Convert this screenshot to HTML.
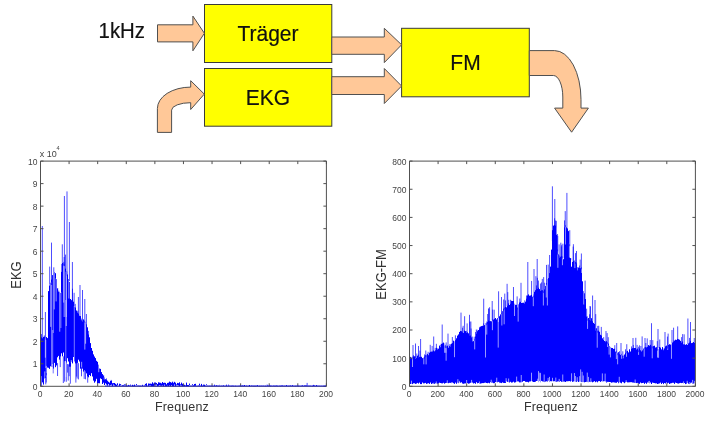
<!DOCTYPE html><html><head><meta charset="utf-8"><style>html,body{margin:0;padding:0;background:#fff;overflow:hidden}svg{display:block;will-change:transform}</style></head><body><svg width="714" height="423" viewBox="0 0 714 423"><rect width="714" height="423" fill="#fff"/><rect x="204.5" y="4.5" width="127.3" height="58" fill="#ffff00" stroke="#3a3a3a" stroke-width="1"/><rect x="204.5" y="68.5" width="127.3" height="57.7" fill="#ffff00" stroke="#3a3a3a" stroke-width="1"/><rect x="401.6" y="28.3" width="127.7" height="68.5" fill="#ffff00" stroke="#3a3a3a" stroke-width="1"/><path d="M157.5,24.8 L192.9,24.8 L192.9,16.1 L204.4,33.3 L192.9,50.8 L192.9,41.9 L157.5,41.9 Z" fill="#ffc898" stroke="#505050" stroke-width="1" stroke-linejoin="miter"/><path d="M331.8,37 L384.3,37 L384.3,28.3 L401.6,44.8 L384.3,62.6 L384.3,54.3 L331.8,54.3 Z" fill="#ffc898" stroke="#505050" stroke-width="1" stroke-linejoin="miter"/><path d="M331.8,76.7 L384.3,76.7 L384.3,68.5 L401.6,86 L384.3,103.5 L384.3,94.5 L331.8,94.5 Z" fill="#ffc898" stroke="#505050" stroke-width="1" stroke-linejoin="miter"/><path d="M157.4,132.4 L157.4,108.5 A33.3,21.4 0 0 1 190.7,87.1 L190.7,80.7 L204.3,94.1 L190.7,109.5 L190.7,102.7 A19.1,7.4 0 0 0 171.6,110.1 L171.6,132.4 Z" fill="#ffc898" stroke="#505050" stroke-width="1" stroke-linejoin="miter"/><path d="M529.3,50.6 L554.6,50.6 A26.4,49 0 0 1 581,99.6 L581,108.1 L588.4,108.1 L571.6,132.2 L554.6,108.1 L562.8,108.1 L562.8,97 A9.4,21.5 0 0 0 553.4,75.5 L529.3,75.5 Z" fill="#ffc898" stroke="#505050" stroke-width="1" stroke-linejoin="miter"/><text transform="translate(98.6,38.2) scale(0.97,1.04)" font-size="21" font-family="Liberation Sans, sans-serif" fill="#111" stroke="#111" stroke-width="0.2">1kHz</text><text transform="translate(268,40.5) scale(1,1.05)" font-size="21" text-anchor="middle" font-family="Liberation Sans, sans-serif" fill="#111" stroke="#111" stroke-width="0.2">Träger</text><text transform="translate(268,104.7) scale(1,1.07)" font-size="21" text-anchor="middle" font-family="Liberation Sans, sans-serif" fill="#111" stroke="#111" stroke-width="0.2">EKG</text><text transform="translate(465.5,69.7) scale(1,1.05)" font-size="21" text-anchor="middle" font-family="Liberation Sans, sans-serif" fill="#111" stroke="#111" stroke-width="0.2">FM</text><path d="M41.5,337.4V386.3M42.5,338.3V382.4M43.5,336.9V384.6M44.5,336.7V378.5M45.5,338.3V377.9M46.5,337.1V375.3M47.5,338.1V367.6M48.5,291.1V367.8M49.5,285.4V368.9M50.5,282.7V366.3M51.5,279.6V366.8M52.5,275.1V367.0M53.5,272.4V368.6M54.5,272.1V362.9M55.5,273.2V367.2M56.5,279.1V365.4M57.5,288.7V357.3M58.5,291.9V355.9M59.5,292.2V359.6M60.5,292.9V356.4M61.5,264.0V353.3M62.5,263.0V356.3M63.5,263.5V352.5M64.5,263.8V361.2M65.5,268.6V361.2M66.5,272.4V362.5M67.5,274.4V358.2M68.5,279.0V361.5M69.5,281.9V366.7M70.5,299.0V366.7M71.5,300.2V361.8M72.5,299.2V363.4M73.5,301.7V357.0M74.5,306.8V361.5M75.5,307.5V363.4M76.5,310.5V363.4M77.5,312.6V362.8M78.5,313.6V359.7M79.5,316.1V361.5M80.5,316.1V368.7M81.5,320.3V370.7M82.5,321.2V368.7M83.5,319.4V371.6M84.5,320.6V370.2M85.5,321.8V371.3M86.5,324.4V373.4M87.5,327.3V376.3M88.5,334.5V377.3M89.5,337.3V375.0M90.5,343.1V376.1M91.5,348.0V373.2M92.5,350.8V376.5M93.5,354.4V380.6M94.5,356.5V382.7M95.5,358.1V381.4M96.5,360.8V378.8M97.5,361.8V383.6M98.5,364.6V383.2M99.5,368.5V383.3M100.5,368.9V378.4M101.5,372.1V379.1M102.5,374.1V384.0M103.5,375.7V382.7M104.5,377.4V385.0M105.5,379.2V383.3M106.5,379.9V384.5M107.5,380.7V385.6M108.5,381.8V384.2M109.5,382.6V385.6M110.5,380.9V385.0M111.5,380.8V384.7M112.5,383.2V386.3M113.5,383.1V384.6M114.5,383.0V385.4M115.5,383.8V386.3M116.5,384.7V386.3M117.5,383.3V385.3M119.5,383.7V385.9M120.5,384.1V385.2M121.5,384.7V384.8M122.5,385.3V386.1M123.5,384.9V385.7M124.5,384.4V385.4M125.5,384.5V385.3M126.5,385.8V386.3M127.5,385.8V386.3M128.5,384.9V385.9M129.5,385.5V385.9M130.5,384.6V385.6M132.5,384.8V386.3M133.5,385.6V386.3M134.5,384.6V386.3M135.5,385.8V385.9M136.5,384.1V385.2M137.5,385.8V386.1M138.5,385.1V385.4M139.5,385.8V386.3M140.5,385.8V386.3M142.5,384.8V385.9M144.5,384.9V385.4M145.5,383.9V385.5M146.5,383.3V386.3M148.5,383.5V385.9M149.5,383.7V385.4M150.5,383.6V385.4M151.5,383.8V386.3M152.5,382.3V386.3M153.5,383.5V386.3M154.5,382.5V385.1M155.5,382.5V384.8M156.5,383.0V384.7M157.5,384.0V386.3M158.5,382.3V385.8M159.5,382.6V385.1M160.5,382.8V385.6M161.5,383.4V385.8M162.5,382.0V385.4M163.5,382.9V386.3M164.5,382.7V384.7M165.5,382.9V386.3M166.5,384.3V386.3M167.5,382.9V385.6M168.5,382.7V386.3M169.5,381.6V385.4M170.5,382.1V386.3M171.5,382.7V385.0M172.5,381.7V386.3M173.5,383.1V386.3M174.5,381.9V384.6M175.5,382.7V386.3M176.5,384.4V385.2M177.5,382.9V385.0M178.5,383.2V385.4M179.5,382.3V386.3M180.5,384.3V385.3M181.5,382.6V385.5M182.5,383.8V386.3M183.5,385.2V385.9M184.5,384.8V386.3M185.5,385.4V385.8M186.5,382.6V386.3M187.5,385.0V386.3M188.5,385.1V386.3M189.5,383.6V385.2M190.5,385.8V385.9M191.5,385.8V385.9M192.5,384.2V385.3M193.5,385.4V386.3M194.5,384.0V385.9M195.5,383.8V385.8M198.5,385.4V385.7M199.5,383.7V385.5M200.5,385.8V385.9M201.5,383.9V386.3M202.5,385.8V386.3M203.5,384.6V385.9M204.5,384.7V386.3M205.5,385.8V386.0M206.5,384.3V385.1M207.5,385.8V386.0M208.5,385.8V385.9M209.5,385.8V386.0M210.5,385.8V385.9M211.5,385.8V385.9M212.5,385.8V385.9M214.5,384.7V385.8M215.5,385.8V385.9M216.5,385.3V386.0M217.5,385.8V386.0M218.5,385.8V386.2M219.5,384.9V385.3M221.5,385.8V386.0M222.5,385.8V385.9M223.5,385.2V385.8M225.5,385.8V385.9M226.5,384.7V385.8M228.5,384.7V385.6M229.5,385.7V385.9M230.5,385.8V385.9M231.5,385.8V386.3M232.5,385.6V385.9M233.5,385.8V386.3M235.5,385.8V386.3M238.5,385.8V385.9M239.5,385.8V386.0M241.5,385.8V386.2M242.5,385.5V386.0M243.5,385.8V386.3M244.5,385.0V386.0M245.5,384.7V384.7M246.5,385.7V386.0M248.5,385.8V385.9M249.5,385.0V386.3M250.5,385.5V385.5M251.5,385.3V385.7M252.5,385.8V386.0M253.5,385.8V386.3M254.5,385.8V386.3M255.5,385.8V386.3M256.5,385.8V386.0M257.5,385.1V385.9M259.5,385.8V386.3M260.5,385.8V385.9M261.5,385.8V386.0M262.5,385.8V385.9M263.5,385.8V386.0M264.5,385.4V385.4M265.5,385.8V386.3M266.5,384.9V385.1M267.5,384.8V385.6M268.5,385.3V385.5M269.5,385.6V386.0M270.5,385.7V386.3M271.5,385.8V386.0M273.5,385.6V385.9M274.5,385.8V386.2M275.5,385.8V386.2M276.5,385.4V385.8M277.5,385.8V386.3M279.5,385.8V386.0M280.5,385.8V386.3M281.5,385.4V385.8M282.5,385.5V386.0M283.5,385.8V385.9M284.5,385.8V386.0M285.5,385.8V385.9M286.5,385.0V385.9M287.5,385.8V385.9M288.5,385.8V386.2M289.5,385.8V386.0M290.5,385.2V385.7M291.5,385.8V385.9M292.5,385.0V385.8M293.5,385.8V385.9M294.5,385.8V385.9M295.5,385.8V386.3M296.5,385.8V386.0M297.5,385.8V385.9M298.5,385.8V386.3M299.5,385.8V385.9M301.5,385.8V386.0M302.5,385.2V385.8M304.5,385.2V385.7M305.5,385.3V385.8M306.5,385.2V385.6M307.5,385.8V385.9M308.5,385.8V386.0M309.5,385.8V386.0M310.5,385.8V386.0M312.5,385.8V386.3M313.5,384.9V385.9M314.5,385.5V386.0M316.5,385.1V386.1M317.5,385.8V385.9M318.5,385.8V385.9M319.5,385.8V385.9M321.5,385.8V385.9M323.5,385.8V385.9M324.5,385.8V385.9M325.5,385.8V386.3" stroke="#0000ff" stroke-width="1" fill="none"/><path d="M41.12,387.3V376.1M44.77,379.5V371.4M45.37,337.3V357.7M46.29,376.3V365.9M50.73,281.7V326.9M52.28,368.0V364.0M54.23,271.1V309.4M56.11,278.1V301.4M59.76,291.2V331.7M61.26,263.0V271.9M63.71,262.5V302.6M64.16,262.8V317.0M66.29,271.4V326.0M68.83,278.0V298.5M71.30,362.8V360.0M81.65,371.7V361.8M84.83,319.6V349.6M85.60,320.8V343.7M98.76,363.6V372.2M104.25,376.4V379.5" stroke="#ffffff" stroke-width="0.6" fill="none"/><path d="M41.46,334.1V339.4M44.28,335.4V338.7M45.76,376.8V384.4M46.24,373.0V382.5M53.11,365.7V373.4M57.56,363.1V376.0M60.26,353.8V367.1M63.83,261.9V265.5M63.33,356.3V383.0M64.18,257.0V265.8M64.59,357.8V381.6M65.55,254.6V270.6M66.81,271.4V274.4M66.29,361.9V381.8M67.62,364.0V372.6M68.27,364.3V380.6M69.17,364.6V376.2M70.35,364.9V383.7M72.49,288.7V301.2M74.13,292.8V308.8M75.23,303.9V309.5M75.87,360.7V382.6M76.62,361.3V376.6M77.76,310.8V314.6M77.11,361.9V378.5M78.43,363.2V379.4M79.51,315.7V318.1M81.27,318.6V322.3M81.51,367.3V376.3M84.19,369.5V378.9M85.53,370.8V379.3M87.70,373.5V382.7M88.56,330.9V336.5M103.67,375.3V377.7M106.50,378.4V381.9M111.19,379.9V382.8M174.19,381.8V383.9M307.13,382.9V385.8M42.3,226V339.0M45.4,312V338.52941176470586M49.7,266.6V284.6875M51.5,242.6V281.66666666666663M53.8,267.3V272.6842105263158M57.7,288V295.0M58.8,290.6V292.46153846153845M62.3,244.3V264.0M64.4,196V266.18181818181824M67,191.4V276.0769230769231M69.4,222V281.0M72.4,262V302.0M78.4,297V314.625M80,285V317.1904761904762M82.5,290V321.0M84.8,299V322.71875M86.4,314V325.21875" stroke="#0000ff" stroke-width="0.7" fill="none"/><path d="M51.6,285V380M53.3,272V333M60.9,292V328M66.2,272V317M74.3,306V376M65.8,300V377M52.7,330V381M45.8,340V368" stroke="#ffffff" stroke-width="0.6" stroke-opacity="0.8" fill="none"/><path d="M40.5,386.3 L40.5,161.1 L326.4,161.1 L326.4,386.3 Z" stroke="#505050" stroke-width="1" fill="none"/><path d="M40.50,386.3 v-3 M40.50,161.1 v3 M69.09,386.3 v-3 M69.09,161.1 v3 M97.68,386.3 v-3 M97.68,161.1 v3 M126.27,386.3 v-3 M126.27,161.1 v3 M154.86,386.3 v-3 M154.86,161.1 v3 M183.45,386.3 v-3 M183.45,161.1 v3 M212.04,386.3 v-3 M212.04,161.1 v3 M240.63,386.3 v-3 M240.63,161.1 v3 M269.22,386.3 v-3 M269.22,161.1 v3 M297.81,386.3 v-3 M297.81,161.1 v3 M326.40,386.3 v-3 M326.40,161.1 v3 M40.5,386.30 h3 M326.4,386.30 h-3 M40.5,363.78 h3 M326.4,363.78 h-3 M40.5,341.26 h3 M326.4,341.26 h-3 M40.5,318.74 h3 M326.4,318.74 h-3 M40.5,296.22 h3 M326.4,296.22 h-3 M40.5,273.70 h3 M326.4,273.70 h-3 M40.5,251.18 h3 M326.4,251.18 h-3 M40.5,228.66 h3 M326.4,228.66 h-3 M40.5,206.14 h3 M326.4,206.14 h-3 M40.5,183.62 h3 M326.4,183.62 h-3 M40.5,161.10 h3 M326.4,161.10 h-3 " stroke="#505050" stroke-width="1" fill="none"/><text transform="translate(40.10,397.3) scale(1,1.1)" text-anchor="middle" font-family="Liberation Sans, sans-serif" fill="#444" font-size="8.5">0</text><text transform="translate(68.69,397.3) scale(1,1.1)" text-anchor="middle" font-family="Liberation Sans, sans-serif" fill="#444" font-size="8.5">20</text><text transform="translate(97.28,397.3) scale(1,1.1)" text-anchor="middle" font-family="Liberation Sans, sans-serif" fill="#444" font-size="8.5">40</text><text transform="translate(125.87,397.3) scale(1,1.1)" text-anchor="middle" font-family="Liberation Sans, sans-serif" fill="#444" font-size="8.5">60</text><text transform="translate(154.46,397.3) scale(1,1.1)" text-anchor="middle" font-family="Liberation Sans, sans-serif" fill="#444" font-size="8.5">80</text><text transform="translate(183.05,397.3) scale(1,1.1)" text-anchor="middle" font-family="Liberation Sans, sans-serif" fill="#444" font-size="8.5">100</text><text transform="translate(211.64,397.3) scale(1,1.1)" text-anchor="middle" font-family="Liberation Sans, sans-serif" fill="#444" font-size="8.5">120</text><text transform="translate(240.23,397.3) scale(1,1.1)" text-anchor="middle" font-family="Liberation Sans, sans-serif" fill="#444" font-size="8.5">140</text><text transform="translate(268.82,397.3) scale(1,1.1)" text-anchor="middle" font-family="Liberation Sans, sans-serif" fill="#444" font-size="8.5">160</text><text transform="translate(297.41,397.3) scale(1,1.1)" text-anchor="middle" font-family="Liberation Sans, sans-serif" fill="#444" font-size="8.5">180</text><text transform="translate(326.00,397.3) scale(1,1.1)" text-anchor="middle" font-family="Liberation Sans, sans-serif" fill="#444" font-size="8.5">200</text><text transform="translate(37.50,389.70) scale(1,1.1)" text-anchor="end" font-family="Liberation Sans, sans-serif" fill="#444" font-size="8.5">0</text><text transform="translate(37.50,367.18) scale(1,1.1)" text-anchor="end" font-family="Liberation Sans, sans-serif" fill="#444" font-size="8.5">1</text><text transform="translate(37.50,344.66) scale(1,1.1)" text-anchor="end" font-family="Liberation Sans, sans-serif" fill="#444" font-size="8.5">2</text><text transform="translate(37.50,322.14) scale(1,1.1)" text-anchor="end" font-family="Liberation Sans, sans-serif" fill="#444" font-size="8.5">3</text><text transform="translate(37.50,299.62) scale(1,1.1)" text-anchor="end" font-family="Liberation Sans, sans-serif" fill="#444" font-size="8.5">4</text><text transform="translate(37.50,277.10) scale(1,1.1)" text-anchor="end" font-family="Liberation Sans, sans-serif" fill="#444" font-size="8.5">5</text><text transform="translate(37.50,254.58) scale(1,1.1)" text-anchor="end" font-family="Liberation Sans, sans-serif" fill="#444" font-size="8.5">6</text><text transform="translate(37.50,232.06) scale(1,1.1)" text-anchor="end" font-family="Liberation Sans, sans-serif" fill="#444" font-size="8.5">7</text><text transform="translate(37.50,209.54) scale(1,1.1)" text-anchor="end" font-family="Liberation Sans, sans-serif" fill="#444" font-size="8.5">8</text><text transform="translate(37.50,187.02) scale(1,1.1)" text-anchor="end" font-family="Liberation Sans, sans-serif" fill="#444" font-size="8.5">9</text><text transform="translate(37.50,164.50) scale(1,1.1)" text-anchor="end" font-family="Liberation Sans, sans-serif" fill="#444" font-size="8.5">10</text><text x="181.95" y="410.6" text-anchor="middle" font-family="Liberation Sans, sans-serif" fill="#333" font-size="12.5" letter-spacing="0.15">Frequenz</text><path d="M410.5,356.9V384.0M411.5,357.9V383.9M412.5,356.6V384.1M413.5,356.5V383.3M414.5,356.4V383.3M415.5,358.7V383.9M416.5,358.1V383.6M417.5,355.7V382.9M418.5,357.6V383.6M419.5,356.9V382.6M420.5,356.9V384.1M421.5,356.8V384.1M422.5,358.1V382.5M423.5,357.6V383.4M424.5,356.6V383.3M425.5,355.1V382.9M426.5,355.3V383.9M427.5,354.1V383.5M428.5,355.2V383.2M429.5,352.7V383.9M430.5,351.8V382.5M431.5,351.6V384.0M432.5,351.5V383.4M433.5,350.5V383.8M434.5,351.3V384.0M435.5,350.3V383.3M436.5,347.8V383.5M437.5,349.7V383.7M438.5,348.7V383.5M439.5,345.6V382.7M440.5,347.2V383.0M441.5,344.0V383.3M442.5,343.4V383.4M443.5,342.6V382.8M444.5,343.2V383.7M445.5,345.9V383.1M446.5,346.2V382.9M447.5,345.9V383.1M448.5,347.6V383.2M449.5,346.1V382.8M450.5,346.8V383.0M451.5,343.7V383.2M452.5,343.1V382.5M453.5,340.7V383.2M454.5,341.3V383.9M455.5,340.1V382.6M456.5,338.3V383.8M457.5,335.6V382.6M458.5,334.4V383.2M459.5,331.9V382.4M460.5,331.0V382.7M461.5,331.2V382.3M462.5,332.4V383.5M463.5,333.0V383.8M464.5,330.6V383.5M465.5,331.1V383.4M466.5,332.9V383.2M467.5,332.3V383.1M468.5,333.3V383.7M469.5,335.7V383.4M470.5,335.5V382.8M471.5,337.4V382.7M472.5,341.5V382.6M473.5,341.1V383.5M474.5,338.8V383.1M475.5,336.5V383.8M476.5,333.6V382.2M477.5,331.2V383.3M478.5,330.0V383.0M479.5,328.3V383.8M480.5,326.6V383.6M481.5,326.1V383.3M482.5,325.8V383.1M483.5,325.7V383.1M484.5,325.1V382.8M485.5,323.1V382.6M486.5,323.2V383.0M487.5,322.0V383.2M488.5,320.5V382.8M489.5,321.2V383.3M490.5,321.1V382.2M491.5,321.3V383.0M492.5,319.3V383.0M493.5,319.8V383.2M494.5,318.8V383.1M495.5,318.0V382.1M496.5,319.4V382.2M497.5,318.0V382.3M498.5,317.8V381.9M499.5,316.5V383.1M500.5,314.4V382.8M501.5,312.9V383.1M502.5,311.3V382.4M503.5,308.6V382.9M504.5,307.6V383.0M505.5,306.9V383.0M506.5,307.3V381.4M507.5,305.8V381.9M508.5,303.4V382.2M509.5,305.0V382.5M510.5,303.8V381.8M511.5,300.8V382.6M512.5,301.0V382.4M513.5,301.0V381.7M514.5,303.6V382.6M515.5,304.8V382.3M516.5,304.8V381.8M517.5,307.5V381.4M518.5,304.3V381.5M519.5,302.5V382.4M520.5,301.8V382.4M521.5,302.8V382.3M522.5,302.8V381.8M523.5,302.7V381.0M524.5,303.5V381.0M525.5,301.7V381.8M526.5,298.7V381.9M527.5,295.5V381.9M528.5,294.4V382.4M529.5,295.7V381.5M530.5,295.5V381.4M531.5,294.9V381.1M532.5,296.7V381.5M533.5,295.5V382.0M534.5,291.8V382.0M535.5,290.2V381.7M536.5,288.6V381.0M537.5,288.6V380.9M538.5,287.7V382.2M539.5,289.1V381.1M540.5,291.0V382.3M541.5,290.3V380.9M542.5,290.2V381.4M543.5,291.1V381.7M544.5,289.4V382.1M545.5,285.9V381.6M546.5,283.3V381.3M547.5,279.3V381.6M548.5,278.1V380.7M549.5,273.1V382.1M550.5,266.6V381.2M551.5,249.6V381.3M552.5,230.2V381.2M553.5,225.6V381.3M554.5,224.9V381.2M555.5,225.6V381.7M556.5,234.9V381.9M557.5,249.3V381.5M558.5,254.3V381.4M559.5,255.5V382.0M560.5,256.7V381.1M561.5,256.2V381.8M562.5,256.4V381.9M563.5,259.2V381.6M564.5,227.3V381.6M565.5,225.1V382.0M566.5,227.4V381.3M567.5,228.4V381.3M568.5,231.2V381.2M569.5,244.2V381.1M570.5,258.2V381.5M571.5,266.7V381.0M572.5,261.9V381.9M573.5,260.6V381.5M574.5,260.5V381.4M575.5,262.0V381.8M576.5,264.3V382.0M577.5,270.4V381.3M578.5,267.5V382.0M579.5,267.9V381.6M580.5,268.2V381.7M581.5,267.3V382.1M582.5,281.3V382.1M583.5,291.1V382.1M584.5,293.3V382.3M585.5,299.1V382.0M586.5,316.7V381.8M587.5,318.7V382.1M588.5,318.0V382.3M589.5,319.8V381.8M590.5,320.5V382.1M591.5,318.2V381.7M592.5,321.1V382.3M593.5,322.9V381.8M594.5,323.9V381.2M595.5,328.1V382.2M596.5,328.3V381.5M597.5,330.7V382.3M598.5,330.7V381.2M599.5,331.8V381.1M600.5,334.8V381.9M601.5,335.5V381.2M602.5,338.3V381.6M603.5,340.0V381.3M604.5,341.0V381.2M605.5,342.2V381.5M606.5,341.2V382.8M607.5,342.0V382.1M608.5,343.6V381.9M609.5,345.9V382.0M610.5,346.9V382.1M611.5,347.9V382.7M612.5,348.0V382.4M613.5,348.9V382.3M614.5,348.7V382.5M615.5,351.5V382.7M616.5,350.7V382.8M617.5,353.2V381.9M618.5,352.2V383.2M619.5,354.2V382.3M620.5,354.9V382.7M621.5,353.8V383.3M622.5,355.6V381.8M623.5,355.6V382.3M624.5,354.5V383.2M625.5,353.2V382.3M626.5,351.4V381.9M627.5,350.9V382.4M628.5,352.4V382.4M629.5,349.3V382.3M630.5,351.5V382.2M631.5,348.8V382.2M632.5,348.2V382.5M633.5,348.1V382.6M634.5,348.0V382.9M635.5,348.0V382.9M636.5,349.5V383.1M637.5,348.6V382.9M638.5,350.2V383.5M639.5,348.5V383.8M640.5,350.3V382.5M641.5,351.5V383.2M642.5,350.4V383.0M643.5,348.5V382.8M644.5,347.4V383.9M645.5,347.1V382.8M646.5,347.4V383.8M647.5,346.8V382.5M648.5,345.1V383.0M649.5,345.7V383.4M650.5,344.8V382.5M651.5,346.6V384.0M652.5,346.4V382.6M653.5,346.1V382.9M654.5,345.7V383.1M655.5,347.5V383.4M656.5,347.2V383.3M657.5,348.7V384.0M658.5,349.1V383.7M659.5,347.0V383.4M660.5,347.6V382.6M661.5,349.4V384.0M662.5,347.1V382.9M663.5,350.2V384.1M664.5,348.4V383.0M665.5,346.3V383.5M666.5,345.6V382.5M667.5,346.6V383.5M668.5,345.0V382.8M669.5,344.2V384.0M670.5,344.6V383.4M671.5,344.2V383.2M672.5,342.5V382.8M673.5,341.7V382.8M674.5,340.9V383.9M675.5,339.7V382.6M676.5,339.9V383.0M677.5,338.9V383.4M678.5,339.2V383.6M679.5,339.7V383.2M680.5,340.9V382.9M681.5,342.7V383.1M682.5,341.5V382.9M683.5,344.3V383.5M684.5,344.3V383.0M685.5,344.8V384.1M686.5,344.2V383.7M687.5,344.8V382.8M688.5,343.9V383.7M689.5,342.6V384.1M690.5,340.9V383.3M691.5,343.1V382.6M692.5,342.8V383.9M693.5,342.0V383.6M694.5,343.0V383.3" stroke="#0000ff" stroke-width="1" fill="none"/><path d="M411.46,384.9V380.7M412.53,355.6V367.0M423.80,356.6V364.3M426.11,354.3V364.4M433.80,384.8V382.7M436.26,384.5V381.5M444.64,342.2V352.8M444.81,342.2V345.8M445.83,344.9V352.8M446.11,345.2V360.7M447.27,384.1V380.3M451.30,384.2V382.0M454.51,340.3V357.2M457.87,383.6V379.2M459.38,383.4V380.9M466.65,384.2V380.0M471.60,383.7V379.9M474.70,337.8V349.4M479.41,384.8V381.5M485.51,322.1V357.5M486.76,322.2V334.6M491.21,384.0V379.7M492.42,318.3V330.2M492.25,384.0V381.8M496.74,383.2V377.7M498.22,316.8V347.6M498.40,316.8V322.1M499.17,384.1V381.9M501.85,311.9V325.5M504.17,306.6V324.3M506.13,382.4V378.2M508.62,383.2V378.5M514.52,302.6V316.0M516.65,382.8V376.6M518.16,303.3V321.6M521.26,383.3V375.0M531.51,382.1V372.7M533.30,294.5V306.2M537.78,381.9V378.7M538.49,383.2V371.1M539.89,382.1V372.6M540.32,383.3V373.1M543.36,290.1V305.5M544.17,383.1V374.5M546.28,282.3V297.5M547.36,278.3V305.5M548.12,381.7V377.9M549.51,383.1V376.9M552.51,382.2V377.8M555.80,382.7V377.6M557.86,248.3V267.8M559.66,254.5V257.5M559.19,383.0V378.9M562.45,255.4V265.2M562.75,382.9V374.5M565.37,224.1V244.5M569.42,243.2V257.6M571.57,382.0V373.3M574.86,259.5V268.1M574.43,382.4V373.0M575.42,382.8V376.0M577.20,382.3V377.2M579.70,382.6V376.2M580.63,382.7V369.4M581.76,266.3V273.0M582.15,383.1V371.8M583.78,290.1V304.5M583.27,383.1V375.5M587.55,317.7V328.9M587.27,383.1V372.6M588.44,383.3V376.9M590.83,383.1V378.3M595.56,327.1V330.3M597.23,329.7V347.7M602.35,382.6V373.4M605.14,382.5V373.6M606.89,383.8V381.5M607.52,341.0V346.9M609.12,344.9V354.6M610.44,345.9V357.4M616.37,349.7V359.1M617.65,352.2V364.3M619.26,383.3V376.8M621.66,352.8V358.8M623.35,354.6V358.3M626.53,350.4V356.8M626.11,382.9V380.2M635.16,383.9V379.5M638.59,349.2V354.9M644.18,346.4V356.7M648.62,384.0V381.4M649.35,384.4V380.9M652.24,345.4V358.3M657.51,347.7V357.6M658.54,348.1V357.8M667.68,345.6V349.9M671.47,343.2V358.8M683.59,384.5V381.4M687.21,383.8V380.8M689.81,385.1V382.0M692.67,384.9V379.9M694.64,384.3V380.9" stroke="#ffffff" stroke-width="0.6" fill="none"/><path d="M411.77,357.8V359.9M413.45,355.2V358.5M414.77,356.3V358.4M415.68,356.6V360.7M416.81,353.5V360.1M418.51,354.6V359.6M419.89,350.6V358.9M424.53,354.4V358.6M425.79,350.5V357.1M427.23,353.7V356.1M428.12,351.8V357.2M430.23,344.8V353.8M432.15,345.9V353.5M433.70,336.5V352.5M435.26,347.9V352.3M436.36,343.8V349.8M437.64,348.3V351.7M440.79,345.1V349.2M441.16,343.7V346.0M445.29,344.8V347.9M446.18,342.4V348.2M447.83,345.5V347.9M449.89,344.2V348.1M450.35,344.4V348.8M452.33,337.0V345.1M462.48,327.7V334.4M463.14,325.8V335.0M466.27,330.9V334.9M467.13,323.4V334.3M469.88,321.7V337.7M470.87,321.5V337.5M471.10,328.5V339.4M472.32,336.6V343.5M474.19,336.7V340.8M475.56,332.0V338.5M476.34,329.6V335.6M477.10,329.7V333.2M479.60,326.9V330.3M483.67,323.4V327.7M486.81,321.5V325.2M487.67,314.0V324.0M488.79,308.7V322.5M489.60,307.2V323.2M492.67,309.6V321.3M493.66,319.5V321.8M494.18,309.7V320.8M499.77,316.0V318.5M503.67,299.5V310.6M504.78,293.6V309.6M505.45,300.4V308.9M507.75,292.1V307.8M508.73,299.8V305.4M510.52,299.8V305.8M513.48,287.0V303.0M517.14,296.4V309.5M519.78,298.5V304.5M524.81,300.3V305.5M526.51,295.5V300.7M531.57,280.9V296.9M533.87,294.2V297.5M535.88,276.2V292.2M536.48,285.4V290.6M537.34,277.8V290.6M538.43,280.5V289.7M540.45,283.5V293.0M541.58,282.4V292.3M542.31,278.9V292.2M543.66,277.1V293.1M544.36,282.7V291.4M546.34,283.1V285.3M548.18,264.6V280.1M554.62,218.3V226.9M555.65,220.5V227.6M556.23,220.9V236.9M557.74,235.8V251.3M559.14,244.4V257.5M560.83,242.7V258.7M561.39,246.4V258.2M562.90,243.7V258.4M565.24,211.1V227.1M568.16,230.8V233.2M569.76,230.2V246.2M570.74,258.1V260.2M573.20,246.6V262.6M575.46,253.1V264.0M576.55,262.5V266.3M577.38,267.2V272.4M579.60,265.5V269.9M580.16,259.6V270.2M581.38,253.5V269.3M585.20,299.0V301.1M586.64,308.7V318.7M587.18,316.3V320.7M589.52,314.3V321.8M590.47,306.5V322.5M595.73,314.1V330.1M597.75,325.9V332.7M598.76,325.8V332.7M601.31,326.9V337.5M603.70,337.1V342.0M605.57,341.3V344.2M607.17,333.1V344.0M608.26,337.2V345.6M614.81,345.2V350.7M616.69,343.0V352.7M617.89,352.5V355.2M619.52,351.2V356.2M622.80,351.3V357.6M625.51,349.3V355.2M626.78,344.2V353.4M631.57,346.4V350.8M633.30,344.9V350.1M635.80,337.8V350.0M637.11,344.9V350.6M638.60,346.7V352.2M639.54,345.3V350.5M640.89,346.0V352.3M642.13,336.4V352.4M645.82,343.0V349.1M647.21,338.4V348.8M650.21,340.0V346.8M652.79,340.1V348.4M657.30,341.1V350.7M659.76,339.5V349.0M663.89,348.5V352.2M667.45,336.6V348.6M668.13,333.6V347.0M673.59,327.7V343.7M674.14,340.2V342.9M681.63,337.1V344.7M682.64,334.1V343.5M684.17,334.3V346.3M688.39,343.0V345.9M689.55,337.9V344.6M694.26,338.0V345.0M413,345V357.89261744966444M415.5,343.5V357.7248322147651M418.5,346V357.5234899328859M420.6,339V357.38255033557044M442.2,324.5V345.3095238095238M448,333.6V346.64375M455.4,335.3V340.37358490566044M461,312.6V332.6140350877193M464.6,316.2V332.1719298245614M469.5,314.8V336.375M483.7,298.7V325.46792452830186M488.7,308.4V321.9773584905661M492.2,301V320.46835443037975M498.6,291.3V318.09999999999997M501.5,297V313.75M507.1,283.8V306.55555555555554M521,282.8V302.0M527.8,262V297.50000000000006M534,269V294.5999999999999M537.2,259V288.1999999999998M546.5,264.9V284.20000000000016M549.6,255V276.38461538461524M552.4,186.3V241.0M554.8,199V225.7692307692308M557.4,234V254.59999999999994M561.7,244.8V257.5M564.5,220.4V246.3M566.9,192.9V229.57142857142847M573.4,244.2V260.6M576.5,251V268.04347826086945M585.1,280.6V303.93333333333453M590,306V319.53521126760563M592.6,295.5V321.0M595,300V327.7199999999999M606,331V342.23809523809524M621,343V355.3333333333333M633,338V349.8619718309859M645,338V349.2631578947369M651.5,323.2V347.015625M658,329V348.35897435897436M665,332V348.54838709677415M672,330V343.625M677.7,326.4V339.70624999999995M687.9,318.5V343.9125M690.5,322V342.9375" stroke="#0000ff" stroke-width="0.7" fill="none"/><path d="M409.5,386.3 L409.5,161.1 L695.4,161.1 L695.4,386.3 Z" stroke="#505050" stroke-width="1" fill="none"/><path d="M409.50,386.3 v-3 M409.50,161.1 v3 M438.09,386.3 v-3 M438.09,161.1 v3 M466.68,386.3 v-3 M466.68,161.1 v3 M495.27,386.3 v-3 M495.27,161.1 v3 M523.86,386.3 v-3 M523.86,161.1 v3 M552.45,386.3 v-3 M552.45,161.1 v3 M581.04,386.3 v-3 M581.04,161.1 v3 M609.63,386.3 v-3 M609.63,161.1 v3 M638.22,386.3 v-3 M638.22,161.1 v3 M666.81,386.3 v-3 M666.81,161.1 v3 M695.40,386.3 v-3 M695.40,161.1 v3 M409.5,386.30 h3 M695.4,386.30 h-3 M409.5,358.15 h3 M695.4,358.15 h-3 M409.5,330.00 h3 M695.4,330.00 h-3 M409.5,301.85 h3 M695.4,301.85 h-3 M409.5,273.70 h3 M695.4,273.70 h-3 M409.5,245.55 h3 M695.4,245.55 h-3 M409.5,217.40 h3 M695.4,217.40 h-3 M409.5,189.25 h3 M695.4,189.25 h-3 M409.5,161.10 h3 M695.4,161.10 h-3 " stroke="#505050" stroke-width="1" fill="none"/><text transform="translate(409.10,397.3) scale(1,1.1)" text-anchor="middle" font-family="Liberation Sans, sans-serif" fill="#444" font-size="8.5">0</text><text transform="translate(437.69,397.3) scale(1,1.1)" text-anchor="middle" font-family="Liberation Sans, sans-serif" fill="#444" font-size="8.5">200</text><text transform="translate(466.28,397.3) scale(1,1.1)" text-anchor="middle" font-family="Liberation Sans, sans-serif" fill="#444" font-size="8.5">400</text><text transform="translate(494.87,397.3) scale(1,1.1)" text-anchor="middle" font-family="Liberation Sans, sans-serif" fill="#444" font-size="8.5">600</text><text transform="translate(523.46,397.3) scale(1,1.1)" text-anchor="middle" font-family="Liberation Sans, sans-serif" fill="#444" font-size="8.5">800</text><text transform="translate(552.05,397.3) scale(1,1.1)" text-anchor="middle" font-family="Liberation Sans, sans-serif" fill="#444" font-size="8.5">1000</text><text transform="translate(580.64,397.3) scale(1,1.1)" text-anchor="middle" font-family="Liberation Sans, sans-serif" fill="#444" font-size="8.5">1200</text><text transform="translate(609.23,397.3) scale(1,1.1)" text-anchor="middle" font-family="Liberation Sans, sans-serif" fill="#444" font-size="8.5">1400</text><text transform="translate(637.82,397.3) scale(1,1.1)" text-anchor="middle" font-family="Liberation Sans, sans-serif" fill="#444" font-size="8.5">1600</text><text transform="translate(666.41,397.3) scale(1,1.1)" text-anchor="middle" font-family="Liberation Sans, sans-serif" fill="#444" font-size="8.5">1800</text><text transform="translate(695.00,397.3) scale(1,1.1)" text-anchor="middle" font-family="Liberation Sans, sans-serif" fill="#444" font-size="8.5">2000</text><text transform="translate(406.50,389.70) scale(1,1.1)" text-anchor="end" font-family="Liberation Sans, sans-serif" fill="#444" font-size="8.5">0</text><text transform="translate(406.50,361.55) scale(1,1.1)" text-anchor="end" font-family="Liberation Sans, sans-serif" fill="#444" font-size="8.5">100</text><text transform="translate(406.50,333.40) scale(1,1.1)" text-anchor="end" font-family="Liberation Sans, sans-serif" fill="#444" font-size="8.5">200</text><text transform="translate(406.50,305.25) scale(1,1.1)" text-anchor="end" font-family="Liberation Sans, sans-serif" fill="#444" font-size="8.5">300</text><text transform="translate(406.50,277.10) scale(1,1.1)" text-anchor="end" font-family="Liberation Sans, sans-serif" fill="#444" font-size="8.5">400</text><text transform="translate(406.50,248.95) scale(1,1.1)" text-anchor="end" font-family="Liberation Sans, sans-serif" fill="#444" font-size="8.5">500</text><text transform="translate(406.50,220.80) scale(1,1.1)" text-anchor="end" font-family="Liberation Sans, sans-serif" fill="#444" font-size="8.5">600</text><text transform="translate(406.50,192.65) scale(1,1.1)" text-anchor="end" font-family="Liberation Sans, sans-serif" fill="#444" font-size="8.5">700</text><text transform="translate(406.50,164.50) scale(1,1.1)" text-anchor="end" font-family="Liberation Sans, sans-serif" fill="#444" font-size="8.5">800</text><text x="550.95" y="410.6" text-anchor="middle" font-family="Liberation Sans, sans-serif" fill="#333" font-size="12.5" letter-spacing="0.15">Frequenz</text><text transform="translate(21.2,275) rotate(-90) scale(1,1.12)" text-anchor="middle" font-family="Liberation Sans, sans-serif" fill="#333" font-size="13">EKG</text><text transform="translate(386,274.4) rotate(-90) scale(1,1.12)" text-anchor="middle" font-family="Liberation Sans, sans-serif" fill="#333" font-size="13">EKG-FM</text><text transform="translate(39.8,156.8) scale(1,1.1)" font-family="Liberation Sans, sans-serif" fill="#444" font-size="9">x 10</text><text x="56.6" y="150.2" font-family="Liberation Sans, sans-serif" fill="#444" font-size="5.5">4</text><path d="M105,386 H326" stroke="#0000ff" stroke-width="0.9" stroke-opacity="0.8"/></svg></body></html>
